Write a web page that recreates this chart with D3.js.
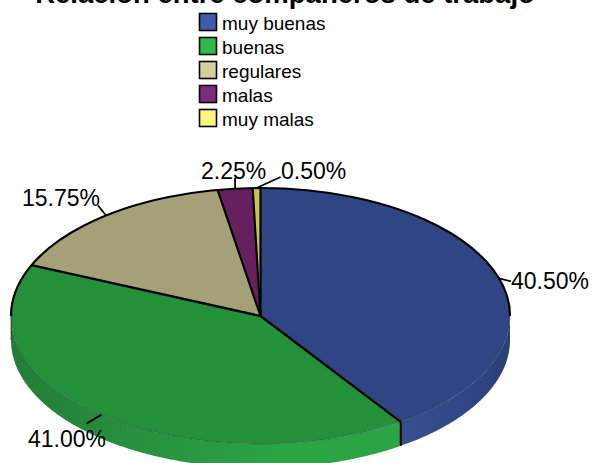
<!DOCTYPE html>
<html><head><meta charset="utf-8">
<script src="https://cdn.jsdelivr.net/npm/d3@7"></script>
<style>html,body{margin:0;padding:0;background:#fff}svg{display:block;overflow:hidden}text{font-family:"Liberation Sans",Arial,sans-serif;fill:#000}</style>
</head><body><svg id="c" width="592" height="463"></svg>
<script>
const titleText = "Relación entre compañeros de trabajo";
const categories = ["muy buenas","buenas","regulares","malas","muy malas"];
const values = [40.5,41.0,15.75,2.25,0.5];
const valueLabels = ["40.50%","41.00%","15.75%","2.25%","0.50%"];
const legendColors = ["#3f5ba9","#2cb94a","#d6d09b","#7e2a7e","#fbf779"];
const topColors = ["#304584","#25903a","#a5a078","#662060","#c9c450"];
const wallStops = [
  [[0,"#2b3f78"],[0.6,"#32498a"],[1,"#35508f"]],
  [[0,"#247c36"],[0.3,"#278f3e"],[0.7,"#2ba544"],[1,"#2ba544"]]
];

const W=592,H=463,cx=260.5,cy=316,rx=249.5,ry=128,depth=24;
const svg=d3.select("#c");
const defs=svg.append("defs");
const pie=d3.pie().sort(null).value(d=>d)(values);
const px=a=>cx+rx*Math.sin(a), py=a=>cy-ry*Math.cos(a);

svg.append("text").attr("x",285).attr("y",3).attr("text-anchor","middle")
  .attr("font-size",27.5).attr("font-weight","bold").text(titleText);

const legendY=d3.scalePoint().domain(categories).range([22,118]);
const lg=svg.append("g");
categories.forEach((c,i)=>{
  const y=legendY(c);
  lg.append("rect").attr("x",199.5).attr("y",y-8.5).attr("width",17).attr("height",17)
    .attr("fill",legendColors[i]).attr("stroke","#000").attr("stroke-width",1.6);
  lg.append("text").attr("x",222).attr("y",y+8).attr("font-size",19).text(c);
});

const front=[Math.PI/2,Math.PI*1.5];
const area=d3.area().x(px).y0(py).y1(a=>py(a)+depth);
pie.forEach((s,i)=>{
  const a0=Math.max(s.startAngle,front[0]),a1=Math.min(s.endAngle,front[1]);
  if(a1<=a0) return;
  const id="w"+i;
  const xs=[px(a0),px(a1)];
  const g=defs.append("linearGradient").attr("id",id).attr("gradientUnits","userSpaceOnUse")
    .attr("x1",d3.min(xs)).attr("x2",d3.max(xs)).attr("y1",0).attr("y2",0);
  if(i===0) g.attr("x1",d3.max(xs)).attr("x2",d3.min(xs));
  wallStops[i].forEach(st=>g.append("stop").attr("offset",st[0]).attr("stop-color",st[1]));
  svg.append("path").attr("d",area(d3.range(a0,a1,0.01).concat([a1]))).attr("fill",`url(#${id})`);
});

const arc=d3.arc().innerRadius(0).outerRadius(rx);
const face=svg.append("g").attr("transform",`translate(${cx},${cy}) scale(1,${ry/rx})`);
pie.forEach((s,i)=>{
  face.append("path").attr("d",arc(s)).attr("fill",topColors[i]);
});
face.append("path").attr("d",d3.arc().innerRadius(rx).outerRadius(rx)({startAngle:front[0],endAngle:front[1]}))
  .attr("fill","none").attr("stroke","#1a3a40").attr("stroke-opacity",0.3).attr("stroke-width",0.7)
  .style("vector-effect","non-scaling-stroke");
face.append("path").attr("d",d3.arc().innerRadius(rx).outerRadius(rx)({startAngle:-Math.PI/2,endAngle:Math.PI/2}))
  .attr("fill","none").attr("stroke","#000").attr("stroke-width",2.2)
  .style("vector-effect","non-scaling-stroke");

pie.forEach(s=>{
  svg.append("line").attr("x1",cx).attr("y1",cy).attr("x2",px(s.startAngle)).attr("y2",py(s.startAngle))
    .attr("stroke","#000").attr("stroke-width",2.2);
});
const edge=pie[0].endAngle;
svg.append("line").attr("x1",px(edge)).attr("y1",py(edge)).attr("x2",px(edge)).attr("y2",py(edge)+depth)
  .attr("stroke","#000").attr("stroke-width",2);
svg.append("line").attr("x1",px(front[1])).attr("x2",px(front[1])).attr("y1",cy).attr("y2",cy+depth)
  .attr("stroke","#000").attr("stroke-opacity",0.5).attr("stroke-width",1);

const leaderEnd=[[12,3],[-15,9],[-8,-10],[0,-11],[24,-11]];
const labelPos=[[511,289],[28,447],[22,206],[201,179],[281,179]];
pie.forEach((s,i)=>{
  const m=(s.startAngle+s.endAngle)/2;
  svg.append("line").attr("x1",px(m)).attr("y1",py(m))
    .attr("x2",px(m)+leaderEnd[i][0]).attr("y2",py(m)+leaderEnd[i][1])
    .attr("stroke","#000").attr("stroke-width",1.8);
  svg.append("text").attr("x",labelPos[i][0]).attr("y",labelPos[i][1]).attr("font-size",23).text(valueLabels[i]);
});
</script></body></html>
